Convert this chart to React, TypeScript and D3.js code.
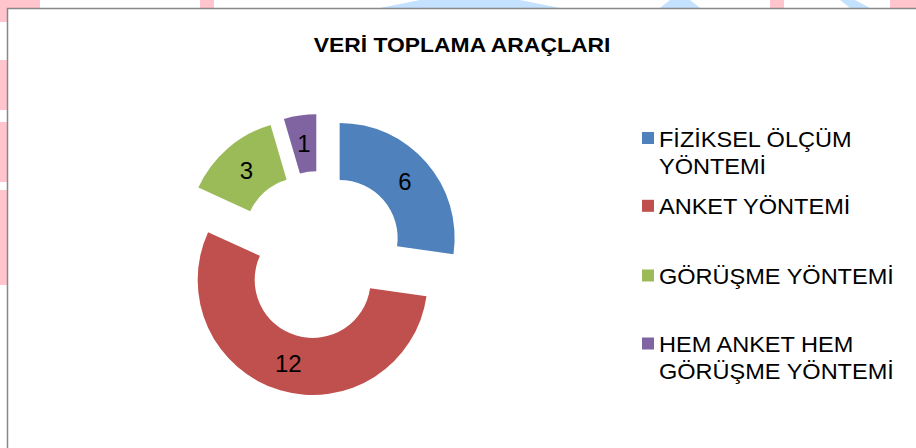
import React from "react";
import * as d3 from "d3";

const categories = [
  "FİZİKSEL ÖLÇÜM YÖNTEMİ",
  "ANKET YÖNTEMİ",
  "GÖRÜŞME YÖNTEMİ",
  "HEM ANKET HEM GÖRÜŞME YÖNTEMİ",
];
const values = [6, 12, 3, 1];
const legendLines = [
  ["FİZİKSEL ÖLÇÜM", "YÖNTEMİ"],
  ["ANKET YÖNTEMİ"],
  ["GÖRÜŞME YÖNTEMİ"],
  ["HEM ANKET HEM", "GÖRÜŞME YÖNTEMİ"],
];
const colors = ["#4F81BD", "#C0504D", "#9BBB59", "#8064A2"];
const title = "VERİ TOPLAMA ARAÇLARI";

const W = 916;
const H = 448;
const CX = 320;
const CY = 255;
const R_OUT = 115;
const R_IN = 58;
const EXPLODE = 26;
const FONT = "'Liberation Sans', Arial, sans-serif";
const LEGEND_FS = 22;
const LEGEND_SX = 1.07;
const TITLE_SX = 1.09;
const legendBaselines = [146.5, 214.3, 284, 352];
const LINE_H = 27;

export default function App() {
  const pie = d3.pie<number>().sort(null).value((d) => d);
  const arcs = pie(values);
  const arc = d3.arc<d3.PieArcDatum<number>>().innerRadius(R_IN).outerRadius(R_OUT);

  return (
    <div style={{ position: "fixed", left: 0, top: 0, width: W, height: H, background: "#fff" }}>
      <svg width={W} height={H} style={{ display: "block" }}>
        {/* faint background watermark outside the chart frame */}
        <g>
          <rect x={0} y={0} width={40} height={8} fill="#FFC4CC" />
          <rect x={0} y={0} width={7} height={22} fill="#FFC4CC" />
          <rect x={0} y={60} width={7} height={50} fill="#FFC4CC" />
          <rect x={0} y={122} width={7} height={60} fill="#FFC4CC" />
          <rect x={0} y={190} width={7} height={95} fill="#FFC4CC" />
          <path d="M380,8 L420,0 L520,0 L560,8 Z" fill="#C4E1FF" />
          <path d="M660,8 L670,0 L690,0 L700,8 Z" fill="#C4E1FF" />
          <path d="M840,0 L855,0 L870,8 L850,8 Z" fill="#C4E1FF" />
          <rect x={890} y={0} width={26} height={8} fill="#FFC4CC" />
          <rect x={770} y={0} width={14} height={8} fill="#FFC4CC" />
          <rect x={200} y={0} width={14} height={8} fill="#FFC4CC" />
        </g>
        <rect x={7.5} y={8.5} width={1000} height={1000} fill="#fff" stroke="#888" strokeWidth={1.5} />

        <text
          transform={`translate(462,52) scale(${TITLE_SX},1)`}
          textAnchor="middle"
          fontFamily={FONT}
          fontWeight="bold"
          fontSize={21}
          fill="#000"
        >
          {title}
        </text>

        <g>
          {arcs.map((a, i) => {
            const mid = (a.startAngle + a.endAngle) / 2;
            const dx = Math.sin(mid) * EXPLODE;
            const dy = -Math.cos(mid) * EXPLODE;
            const [lx, ly] = arc.centroid(a);
            return (
              <g key={categories[i]} transform={`translate(${CX + dx},${CY + dy})`}>
                <path d={arc(a) || ""} fill={colors[i]} />
                <text
                  x={lx}
                  y={ly}
                  dy="0.36em"
                  textAnchor="middle"
                  fontFamily={FONT}
                  fontSize={24}
                  fill="#000"
                >
                  {values[i]}
                </text>
              </g>
            );
          })}
        </g>

        <g>
          {legendLines.map((lines, i) => {
            const by = legendBaselines[i];
            return (
              <g key={categories[i]}>
                <rect x={642} y={by - 14.5} width={12} height={12} fill={colors[i]} />
                {lines.map((ln, j) => (
                  <text
                    key={j}
                    transform={`translate(659,${by + j * LINE_H}) scale(${LEGEND_SX},1)`}
                    fontFamily={FONT}
                    fontSize={LEGEND_FS}
                    fill="#000"
                  >
                    {ln}
                  </text>
                ))}
              </g>
            );
          })}
        </g>
      </svg>
    </div>
  );
}
